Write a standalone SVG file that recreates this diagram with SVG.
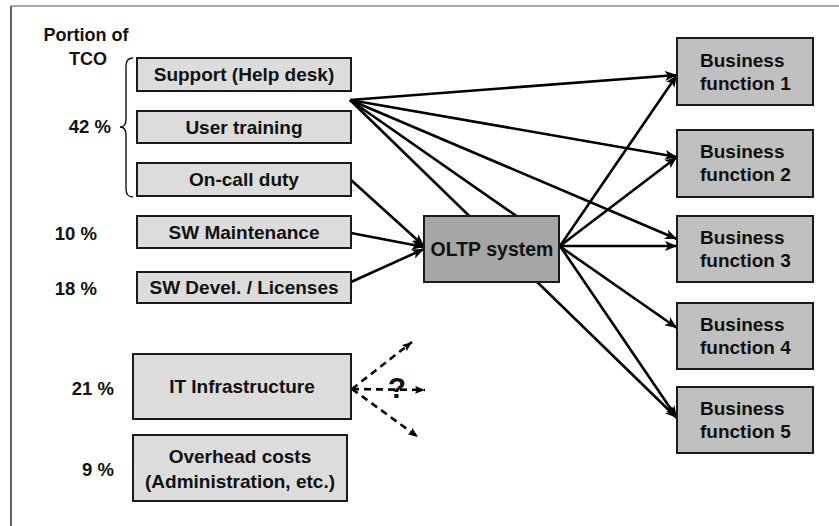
<svg xmlns="http://www.w3.org/2000/svg" width="839" height="526" viewBox="0 0 839 526">
  <style>
    text { font-family: "Liberation Sans", Arial, sans-serif; font-weight: bold; fill: #111; }
    .lbl { font-size: 19px; text-anchor: middle; }
    .pct { font-size: 18.5px; text-anchor: end; }
    .bf { font-size: 19px; }
    .cost rect { fill: #dcdcdc; stroke: #1a1a1a; stroke-width: 2; }
    .biz rect { fill: #c0c0c0; stroke: #1a1a1a; stroke-width: 2; }
    .core rect { fill: #a6a6a6; stroke: #1a1a1a; stroke-width: 2; }
    .link { stroke: #000; stroke-width: 2.6; fill: none; marker-end: url(#arrow); }
    .dash { stroke: #000; stroke-width: 2.6; fill: none; stroke-dasharray: 7 5; marker-end: url(#arrowSmall); }
  </style>
  <defs>
    <marker id="arrow" markerUnits="userSpaceOnUse" markerWidth="13" markerHeight="11" refX="12" refY="5" orient="auto">
      <path d="M0,0 L12,5 L0,10 L3,5 z" fill="#000"/>
    </marker>
    <marker id="arrowSmall" markerUnits="userSpaceOnUse" markerWidth="11" markerHeight="9" refX="10" refY="4" orient="auto">
      <path d="M0,0 L10,4 L0,8 L2,4 z" fill="#000"/>
    </marker>
  </defs>

  <rect width="839" height="526" fill="#fff"/>
  <!-- frame -->
  <line x1="11" y1="6" x2="839" y2="6" stroke="#8a8a8a" stroke-width="1.5"/>
  <line x1="11" y1="6" x2="11" y2="526" stroke="#333" stroke-width="1.5"/>

  <!-- column heading and shares -->
  <g id="heading">
    <text x="86" y="41" style="font-size:18px" text-anchor="middle">Portion of</text>
    <text x="88" y="65" style="font-size:18px" text-anchor="middle">TCO</text>
  </g>
  <g id="shares">
    <text class="pct" x="111" y="133">42 %</text>
    <text class="pct" x="97" y="240">10 %</text>
    <text class="pct" x="97" y="295">18 %</text>
    <text class="pct" x="114" y="395">21 %</text>
    <text class="pct" x="114" y="476">9 %</text>
  </g>
  <path id="brace" d="M133,58 Q126,58 126,66 L126,119 Q126,127 120,127 Q126,127 126,135 L126,189 Q126,197 133,197" fill="none" stroke="#000" stroke-width="1.3"/>

  <!-- connectors -->
  <g id="connectors">
    <line class="link" x1="350" y1="100" x2="677" y2="75"/>
    <line class="link" x1="350" y1="100" x2="677" y2="157"/>
    <line class="link" x1="350" y1="100" x2="677" y2="239"/>
    <line class="link" x1="350" y1="100" x2="677" y2="328"/>
    <line class="link" x1="350" y1="100" x2="677" y2="418"/>
    <line class="link" x1="560" y1="246" x2="677" y2="75"/>
    <line class="link" x1="560" y1="246" x2="677" y2="157"/>
    <line class="link" x1="560" y1="246" x2="677" y2="246"/>
    <line class="link" x1="560" y1="246" x2="677" y2="418"/>
    <line class="link" x1="351" y1="180" x2="424" y2="246"/>
    <line class="link" x1="351" y1="233" x2="424" y2="247"/>
    <line class="link" x1="351" y1="282" x2="424" y2="249"/>
    <line class="dash" x1="352" y1="389" x2="412" y2="342"/>
    <line class="dash" x1="352" y1="389" x2="425" y2="390"/>
    <line class="dash" x1="352" y1="389" x2="418" y2="437"/>
    <text x="397" y="398" style="font-size:30px" text-anchor="middle">?</text>
  </g>

  <!-- cost items -->
  <g id="support" class="cost">
    <rect x="137" y="58" width="214" height="33"/>
    <text class="lbl" x="244" y="81">Support (Help desk)</text>
  </g>
  <g id="training" class="cost">
    <rect x="137" y="111" width="214" height="32"/>
    <text class="lbl" x="244" y="134">User training</text>
  </g>
  <g id="oncall" class="cost">
    <rect x="137" y="163" width="214" height="33"/>
    <text class="lbl" x="244" y="186">On-call duty</text>
  </g>
  <g id="maintenance" class="cost">
    <rect x="137" y="216" width="214" height="32"/>
    <text class="lbl" x="244" y="239">SW Maintenance</text>
  </g>
  <g id="licenses" class="cost">
    <rect x="137" y="272" width="214" height="31"/>
    <text class="lbl" x="244" y="294">SW Devel. / Licenses</text>
  </g>
  <g id="infrastructure" class="cost">
    <rect x="133" y="354" width="218" height="65"/>
    <text class="lbl" x="242" y="393">IT Infrastructure</text>
  </g>
  <g id="overhead" class="cost">
    <rect x="133" y="435" width="214" height="66"/>
    <text class="lbl" x="240" y="463">Overhead costs</text>
    <text class="lbl" x="240" y="488">(Administration, etc.)</text>
  </g>

  <!-- system -->
  <g id="oltp" class="core">
    <rect x="424" y="216" width="135" height="66"/>
    <text class="lbl" x="492" y="256" style="font-size:19.5px">OLTP system</text>
  </g>

  <!-- business functions -->
  <g id="bf1" class="biz">
    <rect x="677" y="38" width="136" height="67"/>
    <text class="bf" x="700" y="67">Business</text>
    <text class="bf" x="700" y="90">function 1</text>
  </g>
  <g id="bf2" class="biz">
    <rect x="677" y="130" width="136" height="67"/>
    <text class="bf" x="700" y="158">Business</text>
    <text class="bf" x="700" y="181">function 2</text>
  </g>
  <g id="bf3" class="biz">
    <rect x="677" y="216" width="136" height="66"/>
    <text class="bf" x="700" y="244">Business</text>
    <text class="bf" x="700" y="267">function 3</text>
  </g>
  <g id="bf4" class="biz">
    <rect x="677" y="303" width="136" height="66"/>
    <text class="bf" x="700" y="331">Business</text>
    <text class="bf" x="700" y="354">function 4</text>
  </g>
  <g id="bf5" class="biz">
    <rect x="677" y="387" width="136" height="66"/>
    <text class="bf" x="700" y="415">Business</text>
    <text class="bf" x="700" y="438">function 5</text>
  </g>
</svg>
